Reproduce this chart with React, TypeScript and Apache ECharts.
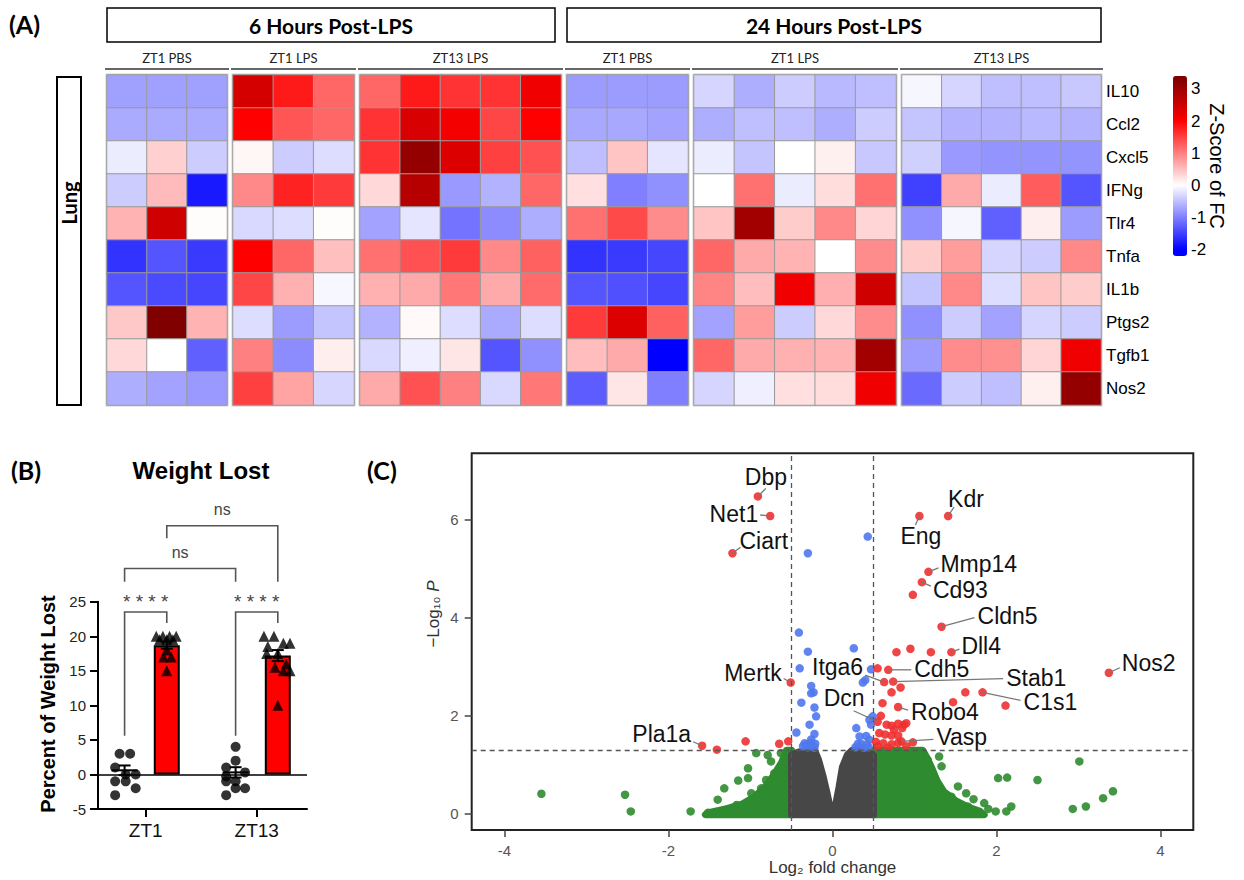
import React, { useEffect, useRef } from "react";
import * as echarts from "echarts";

// ================= Panel A : heatmap data =================
const genes = ["IL10", "Ccl2", "Cxcl5", "IFNg", "Tlr4", "Tnfa", "IL1b", "Ptgs2", "Tgfb1", "Nos2"];
const timeHeaders = ["6 Hours Post-LPS", "24 Hours Post-LPS"];
const groupLabels = ["ZT1 PBS", "ZT1 LPS", "ZT13 LPS", "ZT1 PBS", "ZT1 LPS", "ZT13 LPS"];

const h6_ZT1_PBS = [
  [-0.75, -0.75, -0.75], [-0.67, -0.67, -0.67], [-0.15, 0.37, -0.4], [-0.4, 0.53, -1.8], [0.6, 2.5, 0.02],
  [-1.6, -1.33, -1.55], [-1.33, -1.42, -1.45], [0.43, 3.3, 0.6], [0.3, 0, -1.25], [-0.63, -0.72, -0.8],
];
const h6_ZT1_LPS = [
  [2.44, 1.8, 1.2], [2.0, 1.33, 1.2], [0.07, -0.4, -0.27], [0.93, 1.73, 1.55], [-0.3, -0.27, 0.02],
  [2.0, 1.2, 0.5], [1.45, 0.62, -0.06], [-0.27, -0.78, -0.46], [1.0, -0.9, 0.13], [1.5, 0.72, -0.32],
];
const h6_ZT13_LPS = [
  [1.2, 1.8, 1.6, 1.6, 2.15], [1.6, 2.4, 2.1, 1.45, 2.0], [1.6, 3.1, 2.35, 1.5, 1.37], [0.3, 2.75, -0.8, -0.6, 1.2],
  [-0.72, -0.2, -1.1, -0.9, -0.63], [1.12, 1.37, 1.55, 0.93, 1.25], [0.62, 0.67, 1.07, 0.67, 1.17],
  [-0.6, 0.05, -0.27, -0.67, -0.27], [-0.3, -0.12, 0.2, -1.33, -0.87], [0.67, 1.37, 1.0, -0.3, 1.07],
];
const h24_ZT1_PBS = [
  [-0.78, -0.78, -0.78], [-0.68, -0.68, -0.72], [-0.5, 0.46, -0.2], [0.25, -1.0, -0.87], [1.12, 1.42, 0.9],
  [-1.6, -1.55, -1.45], [-1.33, -1.37, -1.45], [1.55, 2.35, 1.25], [0.52, 0.67, -2.0], [-1.28, 0.2, -1.0],
];
const h24_ZT1_LPS = [
  [-0.33, -0.63, -0.4, -0.55, -0.5], [-0.63, -0.5, -0.5, -0.63, -0.4], [-0.15, -0.46, 0, 0.12, -0.43],
  [0, 1.12, -0.15, 0.27, 1.12], [0.46, 2.95, 0.4, 0.93, 0.33], [1.2, 0.67, 0.6, 0, 0.9],
  [0.97, 0.52, 2.15, 0.63, 2.5], [-0.72, 0.78, -0.4, 0.3, 0.9], [1.2, 0.67, 0.62, 0.6, 2.95],
  [-0.33, -0.12, 0.25, 0.27, 2.15],
];
const h24_ZT13_LPS = [
  [-0.07, -0.33, -0.5, -0.5, -0.43], [-0.46, -0.6, -0.6, -0.55, -0.6], [-0.37, -0.8, -0.84, -0.84, -0.84],
  [-1.5, 0.67, -0.15, 1.27, -1.33], [-0.87, -0.07, -1.25, 0.13, -0.78], [0.4, 0.78, -0.33, -0.4, 0.93],
  [-0.46, 0.93, -0.27, 0.46, 0.4], [-0.87, -0.4, -0.72, -0.33, -0.4], [-0.78, 0.9, 0.87, 0.33, 2.15],
  [-1.17, -0.4, -0.5, 0.12, 3.1],
];
const heatGroups = [h6_ZT1_PBS, h6_ZT1_LPS, h6_ZT13_LPS, h24_ZT1_PBS, h24_ZT1_LPS, h24_ZT13_LPS];
const colorbarTicks = [-2, -1, 0, 1, 2, 3];
const zMin = -2.2;
const zMax = 3.4;

// ================= Panel B : weight lost =================
const timepoints = ["ZT1", "ZT13"];
const pbsZT1 = [3, 3, 1, 0, 0, -1, -1, -2, -3];
const pbsZT13 = [4, 2, 1, 0.3, -0.3, -1, -1, -2, -2, -3];
const lpsZT1 = [20, 20, 20, 20, 19.5, 19.5, 19.5, 18, 17, 17, 15];
const lpsZT13 = [20, 20, 19, 19, 18.5, 17.5, 17.5, 16, 15.5, 15, 15, 10];
const pbsMean = [0.6, 0.3];
const pbsSem = [0.7, 0.75];
const lpsMean = [18.7, 17.2];
const lpsSem = [0.5, 0.8];
const sigLabels = ["****", "****", "ns", "ns"];

// ================= Panel C : volcano =================
const greyCloud = [
  [-0.5, -0.02], [-0.5, 1.2], [-0.42, 1.26], [-0.3, 1.3], [-0.22, 1.3], [-0.17, 1.1], [-0.12, 0.8],
  [-0.07, 0.45], [-0.03, 0.14], [0.0, 0.07], [0.04, 0.2], [0.08, 0.55], [0.12, 0.95], [0.18, 1.2],
  [0.24, 1.3], [0.36, 1.3], [0.44, 1.27], [0.5, 1.2], [0.5, -0.02],
];
const greenCloudLeft = [
  [-0.5, -0.02], [-0.5, 1.3], [-0.56, 1.3], [-0.62, 1.05], [-0.72, 0.78], [-0.82, 0.55], [-0.95, 0.35],
  [-1.1, 0.2], [-1.3, 0.1], [-1.5, 0.03], [-1.55, -0.02],
];
const greenCloudRight = [
  [0.5, -0.02], [0.5, 1.3], [1.1, 1.3], [1.16, 1.12], [1.22, 0.9], [1.28, 0.66], [1.36, 0.45], [1.5, 0.27],
  [1.65, 0.14], [1.8, 0.05], [1.85, -0.02],
];
const greenPoints = [
  [-3.55, 0.41], [-2.53, 0.39], [-2.46, 0.05], [-1.73, 0.05], [-1.52, 0.02], [-1.4, 0.29], [-1.32, 0.52],
  [-1.15, 0.68], [-1.03, 0.93], [-0.93, 1.24], [-0.79, 1.2], [-0.63, 1.24], [-0.75, 1.07], [-1.03, 0.73],
  [-0.81, 0.69], [-0.71, 0.83], [-1.32, 0.08], [-1.17, 0.18], [-0.99, 0.42], [-0.87, 0.52],
  [3.01, 1.07], [2.02, 0.73], [2.13, 0.74], [2.5, 0.69], [3.42, 0.46], [3.3, 0.32], [3.09, 0.15], [2.93, 0.1],
  [2.18, 0.15], [2.12, 0.05], [1.99, 0.05], [1.85, 0.22], [1.65, 0.15], [1.53, 0.08], [1.41, 0.05],
  [1.29, 0.08], [1.16, 0.15], [1.63, 0.42], [1.53, 0.56], [1.3, 0.52], [1.33, 0.97], [1.3, 1.17],
  [1.16, 1.1], [1.35, 0.27], [1.45, 0.35], [1.72, 0.3], [1.9, 0.1],
];
const bluePoints = [
  [-0.3, 5.32], [0.43, 5.66], [-0.41, 3.7], [-0.3, 3.31], [-0.4, 2.97], [-0.26, 2.61], [-0.23, 2.48],
  [-0.26, 2.46], [-0.38, 2.27], [-0.22, 2.17], [-0.2, 1.99], [-0.28, 1.82], [-0.22, 1.63], [-0.44, 1.66],
  [-0.34, 1.44], [-0.3, 1.42], [-0.26, 1.45], [-0.21, 1.43], [-0.26, 1.52], [-0.3, 1.36], [-0.22, 1.35],
  [-0.36, 1.38], [0.26, 3.38], [0.47, 2.95], [0.4, 2.73], [0.37, 2.68], [0.29, 1.75], [0.33, 1.58],
  [0.41, 1.59], [0.31, 1.43], [0.35, 1.43], [0.42, 1.42], [0.49, 1.99], [0.47, 1.82], [0.45, 1.92],
  [0.45, 1.51], [0.28, 1.36], [0.38, 1.35], [0.44, 1.36],
];
const redPoints = [
  [0.98, 4.47], [0.78, 3.3], [0.95, 3.37], [1.2, 3.3], [0.55, 2.97], [0.83, 2.58], [0.72, 2.48],
  [1.62, 2.48], [2.11, 2.21], [1.47, 2.28], [0.61, 2.26], [0.59, 2.0], [0.66, 1.82], [0.72, 1.8], [0.8, 1.84],
  [0.87, 1.82], [0.9, 1.85], [0.85, 1.75], [0.75, 1.72], [0.57, 1.65], [0.64, 1.62], [0.72, 1.6], [0.8, 1.6],
  [0.53, 1.47], [0.62, 1.44], [0.72, 1.42], [0.8, 1.45], [0.98, 1.46], [0.55, 1.38], [0.68, 1.35], [0.9, 1.38],
  [-1.41, 1.31], [-1.06, 1.48], [-0.65, 1.43], [-0.54, 1.48],
];
const labeledGenes = [
  "Dbp", "Net1", "Ciart", "Mertk", "Pla1a", "Itga6", "Stab1", "Cdh5", "Dcn", "Robo4", "Vasp", "C1s1", "Nos2",
  "Kdr", "Eng", "Mmp14", "Cd93", "Cldn5", "Dll4",
];
const labeledFC = [-0.91, -0.76, -1.22, -0.51, -1.59, 0.63, 0.74, 0.68, 0.55, 0.8, 0.84, 1.83, 3.37, 1.41, 1.06, 1.17, 1.09, 1.33, 1.45];
const labeledP = [6.48, 6.08, 5.32, 2.68, 1.39, 2.69, 2.7, 2.94, 1.88, 2.18, 1.48, 2.48, 2.88, 6.08, 6.08, 4.94, 4.73, 3.82, 3.3];
const volcanoXTicks = [-4, -2, 0, 2, 4];
const volcanoYTicks = [0, 2, 4, 6];
const fcCut = 0.5;
const pCut = 1.30103;

// ================= layout (positions only) =================
const heatLeft = [107, 233, 360, 567, 694, 902];
const heatWidth = [120, 121, 201, 121, 202, 199];
const heatTop = 75;
const heatHeight = 330;
const groupPos = [1, 3];
const pairOff = 0.38;
const pbsJitter = [
  [-0.09, 0.1, -0.17, 0.02, 0.2, -0.17, 0.02, 0.2, -0.17],
  [0, 0, -0.17, 0.17, -0.17, 0, -0.17, 0, 0.17, -0.17],
];
const lpsJitter = [
  [-0.19, -0.07, 0.05, 0.17, -0.13, 0, 0.11, 0, -0.06, 0.08, 0],
  [-0.25, -0.07, 0.1, 0.22, -0.18, -0.2, 0, 0.15, -0.05, 0.1, 0.22, 0],
];
// bracket: [timepointA, treatA, timepointB, treatB, top, legA, legB]
const bracketGeom = [
  [0, 0, 0, 1, 23.5, 5.6, 21.9],
  [1, 0, 1, 1, 23.5, 5.6, 21.9],
  [0, 0, 1, 0, 29.8, 27.9, 27.9],
  [0, 1, 1, 1, 36.0, 34.2, 27.9],
];
// [textDx, textDy, lineDx, lineDy, align]
const labelLayout: any[] = [
  [8, -19, 8, -8, "center"], [-12, -2, -10, -1, "right"], [7, -12, 8, -6, "left"], [-9, -10, -7, -4, "right"],
  [-11, -12, -9, -4, "right"], [-21, -15, -19, -7, "right"], [113, -4, 110, -3, "left"], [26, -1, 23, 0, "left"],
  [-13, -24, -24, -11, "right"], [13, 5, 10, 3, "left"], [35, -4, 32, -2, "left"], [41, 10, 38, 8, "left"],
  [13, -10, 11, -5, "left"], [0, -17, 6, -9, "left"], [-19, 20, -4, 9, "left"], [12, -8, 10, -4, "left"],
  [11, 8, 9, 4, "left"], [36, -11, 33, -9, "left"], [10, -6, 8, -3, "left"],
];

function heatColor(v: number): string {
  let r: number, g: number, b: number;
  if (v < 0) {
    const t = Math.min(1, -v / 2);
    r = g = Math.round(255 * (1 - t));
    b = 255;
  } else if (v <= 2) {
    const t = v / 2;
    r = 255;
    g = b = Math.round(255 * (1 - t));
  } else {
    const t = Math.min(1, (v - 2) / 1.3);
    r = Math.round(255 - 127 * t);
    g = b = 0;
  }
  return `rgb(${r},${g},${b})`;
}

const FONT = "Liberation Sans, Arial, sans-serif";
const CAL = "Lato, Liberation Sans, sans-serif";

function buildOption() {
  const grid: any[] = [];
  const xAxis: any[] = [];
  const yAxis: any[] = [];
  const series: any[] = [];

  // ---- heatmaps (grid 0-5)
  heatGroups.forEach((g, gi) => {
    grid.push({
      left: heatLeft[gi], top: heatTop, width: heatWidth[gi], height: heatHeight,
      show: true, borderColor: "#cfcfcf", borderWidth: 3, outerBoundsMode: "none",
    });
    xAxis.push({ type: "category", gridIndex: gi, data: g[0].map((_, i) => String(i + 1)), show: false });
    yAxis.push({
      type: "category", gridIndex: gi, data: genes, inverse: true,
      position: gi === 5 ? "right" : "left",
      axisLine: { show: false }, axisTick: { show: false },
      axisLabel: { show: gi === 5, fontSize: 17, color: "#000", margin: 5, fontFamily: FONT },
    });
    const data: any[] = [];
    g.forEach((row, ri) => row.forEach((v, ci) => data.push([ci, ri, v])));
    series.push({
      type: "heatmap", xAxisIndex: gi, yAxisIndex: gi, data,
      itemStyle: { borderColor: "#9a9a9a", borderWidth: 1 },
      emphasis: { disabled: true },
    });
  });

  // ---- colorbar tick axis (grid 6)
  grid.push({ left: 1173, top: 76, width: 14, height: 180, outerBoundsMode: "none" });
  xAxis.push({ type: "value", gridIndex: 6, show: false, min: 0, max: 1 });
  yAxis.push({
    type: "value", gridIndex: 6, min: zMin, max: zMax, position: "right",
    axisLine: { show: false }, axisTick: { show: false }, splitLine: { show: false },
    axisLabel: { customValues: colorbarTicks, fontSize: 17, color: "#000", margin: 4, fontFamily: FONT },
  });
  series.push({ type: "scatter", xAxisIndex: 6, yAxisIndex: 6, data: [] });

  // ---- weight lost (grid 7)
  grid.push({ left: 98, top: 601.7, width: 209, height: 207.3, outerBoundsMode: "none" });
  xAxis.push({
    type: "value", gridIndex: 7, min: 0.141, max: 3.906,
    axisLine: { show: true, onZero: false, lineStyle: { color: "#000", width: 2 } },
    axisTick: { show: true, customValues: groupPos, length: 8, lineStyle: { color: "#000", width: 2 } },
    axisLabel: {
      customValues: groupPos, fontSize: 19, color: "#111", margin: 12, fontFamily: FONT,
      formatter: (v: number) => timepoints[groupPos.indexOf(v)] ?? "",
    },
    splitLine: { show: false },
  });
  yAxis.push({
    type: "value", gridIndex: 7, min: -5, max: 25, interval: 5,
    axisLine: { show: true, lineStyle: { color: "#000", width: 2 } },
    axisTick: { show: true, length: 8, lineStyle: { color: "#000", width: 2 } },
    axisLabel: { fontSize: 15, color: "#222", margin: 12, fontFamily: FONT },
    splitLine: { show: false },
  });
  series.push({
    type: "bar", xAxisIndex: 7, yAxisIndex: 7, barWidth: 26,
    data: groupPos.map((p, i) => [p + pairOff, lpsMean[i]]),
    itemStyle: { color: "#ff0000", borderColor: "#000", borderWidth: 2 },
    emphasis: { disabled: true },
    markLine: {
      silent: true, symbol: "none", label: { show: false },
      lineStyle: { color: "#000", width: 1.5, type: "solid" },
      data: [{ yAxis: 0 }],
    },
  });
  const pbsData: any[] = [];
  [pbsZT1, pbsZT13].forEach((arr, t) =>
    arr.forEach((v, i) => pbsData.push([groupPos[t] - pairOff + pbsJitter[t][i], v]))
  );
  const lpsData: any[] = [];
  [lpsZT1, lpsZT13].forEach((arr, t) =>
    arr.forEach((v, i) => lpsData.push([groupPos[t] + pairOff + lpsJitter[t][i], v]))
  );
  series.push({
    type: "scatter", xAxisIndex: 7, yAxisIndex: 7, data: pbsData, symbol: "circle", symbolSize: 10,
    itemStyle: { color: "#000" }, emphasis: { disabled: true },
  });
  series.push({
    type: "scatter", xAxisIndex: 7, yAxisIndex: 7, data: lpsData, symbol: "triangle", symbolSize: 11,
    itemStyle: { color: "#000" }, emphasis: { disabled: true },
  });
  const errData = [
    [groupPos[0] - pairOff, pbsMean[0], pbsSem[0], 1],
    [groupPos[1] - pairOff, pbsMean[1], pbsSem[1], 1],
    [groupPos[0] + pairOff, lpsMean[0], lpsSem[0], 0],
    [groupPos[1] + pairOff, lpsMean[1], lpsSem[1], 0],
  ];
  series.push({
    type: "custom", xAxisIndex: 7, yAxisIndex: 7, data: errData, silent: true, z: 5,
    renderItem: (params: any, api: any) => {
      const x = api.value(0), m = api.value(1), s = api.value(2), wide = api.value(3);
      const c = api.coord([x, m]);
      const hi = api.coord([x, m + s]);
      const lo = api.coord([x, m - s]);
      const ls = { stroke: "#000", lineWidth: 2 };
      const cap = 6;
      const children: any[] = [
        { type: "line", shape: { x1: c[0], y1: hi[1], x2: c[0], y2: lo[1] }, style: ls },
        { type: "line", shape: { x1: c[0] - cap, y1: hi[1], x2: c[0] + cap, y2: hi[1] }, style: ls },
        { type: "line", shape: { x1: c[0] - cap, y1: lo[1], x2: c[0] + cap, y2: lo[1] }, style: ls },
      ];
      if (wide) children.push({ type: "line", shape: { x1: c[0] - 13, y1: c[1], x2: c[0] + 13, y2: c[1] }, style: ls });
      return { type: "group", children };
    },
  });
  const brData = bracketGeom.map((b, i) => [
    groupPos[b[0]] + (b[1] ? pairOff : -pairOff),
    groupPos[b[2]] + (b[3] ? pairOff : -pairOff),
    b[4], b[5], b[6], i,
  ]);
  series.push({
    type: "custom", xAxisIndex: 7, yAxisIndex: 7, data: brData, silent: true, clip: false,
    renderItem: (params: any, api: any) => {
      const xa = api.value(0), xb = api.value(1), top = api.value(2), la = api.value(3), lb = api.value(4);
      const i = params.dataIndex;
      const pTopA = api.coord([xa, top]);
      const pTopB = api.coord([xb, top]);
      const pA = api.coord([xa, la]);
      const pB = api.coord([xb, lb]);
      const ls = { stroke: "#555", lineWidth: 1.6, fill: "none" };
      const isStar = sigLabels[i] === "****";
      return {
        type: "group",
        children: [
          { type: "polyline", shape: { points: [pA, pTopA, pTopB, pB] }, style: ls },
          {
            type: "text", x: (pTopA[0] + pTopB[0]) / 2, y: pTopA[1] - (isStar ? 11 : 16),
            style: {
              text: isStar ? "* * * *" : sigLabels[i], fontSize: isStar ? 19 : 16, fill: "#444",
              align: "center", verticalAlign: "middle", fontFamily: FONT,
            },
          },
        ],
      };
    },
  });

  // ---- volcano (grid 8)
  grid.push({
    left: 471.7, top: 453.3, width: 721.6, height: 376.7, show: true,
    borderColor: "#222", borderWidth: 2, outerBoundsMode: "none",
  });
  xAxis.push({
    type: "value", gridIndex: 8, min: -4.4, max: 4.4,
    axisLine: { show: false, onZero: false },
    axisTick: { show: true, customValues: volcanoXTicks, length: 7, lineStyle: { color: "#444", width: 1.5 } },
    axisLabel: { customValues: volcanoXTicks, fontSize: 15, color: "#555", margin: 13, fontFamily: FONT },
    splitLine: { show: false },
    name: "Log\u2082 fold change", nameLocation: "middle", nameGap: 27,
    nameTextStyle: { fontSize: 17, color: "#333", fontFamily: FONT },
  });
  yAxis.push({
    type: "value", gridIndex: 8, min: -0.33, max: 7.36,
    axisLine: { show: false, onZero: false },
    axisTick: { show: true, customValues: volcanoYTicks, length: 7, lineStyle: { color: "#444", width: 1.5 } },
    axisLabel: { customValues: volcanoYTicks, fontSize: 15, color: "#555", margin: 13, fontFamily: FONT },
    splitLine: { show: false },
  });
  const poly = (pts: number[][], color: string) => ({
    type: "custom", xAxisIndex: 8, yAxisIndex: 8, silent: true, data: [[0, 0]],
    renderItem: (params: any, api: any) => ({
      type: "polygon",
      shape: { points: pts.map((p) => api.coord(p)) },
      style: { fill: color, stroke: color, lineWidth: 7, lineJoin: "round" },
    }),
  });
  series.push(poly(greenCloudLeft, "#2f8b2f"));
  series.push(poly(greenCloudRight, "#2f8b2f"));
  series.push(poly(greyCloud, "#474747"));
  const scatterStyle = (data: any[], color: string, extra: any = {}) => ({
    type: "scatter", xAxisIndex: 8, yAxisIndex: 8, data, symbolSize: 8.5,
    itemStyle: { color, opacity: 0.9 }, emphasis: { disabled: true }, ...extra,
  });
  series.push(scatterStyle(greenPoints, "#2f8b2f"));
  series.push(scatterStyle(bluePoints, "#5078ee"));
  const redAll = redPoints.concat(labeledFC.map((x, i) => [x, labeledP[i]]));
  series.push(
    scatterStyle(redAll, "#f03030", {
      markLine: {
        silent: true, symbol: "none", label: { show: false },
        lineStyle: { color: "#555", width: 1.3, type: [5, 4] },
        data: [{ xAxis: -fcCut }, { xAxis: fcCut }, { yAxis: pCut }],
      },
    })
  );
  series.push({
    type: "custom", xAxisIndex: 8, yAxisIndex: 8, silent: true, clip: false, z: 6,
    data: labeledFC.map((x, i) => [x, labeledP[i]]),
    renderItem: (params: any, api: any) => {
      const i = params.dataIndex;
      const p = api.coord([api.value(0), api.value(1)]);
      const o = labelLayout[i];
      return {
        type: "group",
        children: [
          { type: "line", shape: { x1: p[0], y1: p[1], x2: p[0] + o[2], y2: p[1] + o[3] }, style: { stroke: "#777", lineWidth: 1.3 } },
          {
            type: "text", x: p[0] + o[0], y: p[1] + o[1],
            style: { text: labeledGenes[i], fontSize: 23, fill: "#111", align: o[4], verticalAlign: "middle", fontFamily: FONT },
          },
        ],
      };
    },
  });

  // ---- visual map for heatmap colours
  const nStops = 57;
  const stops: string[] = [];
  for (let i = 0; i < nStops; i++) stops.push(heatColor(zMin + ((zMax - zMin) * i) / (nStops - 1)));

  const graphic: any[] = [];
  const txt = (x: number, y: number, text: string, style: any = {}, extra: any = {}) => ({
    type: "text", x, y, silent: true, ...extra,
    style: { text, fill: "#000", align: "center", verticalAlign: "middle", fontFamily: FONT, ...style },
  });
  graphic.push(txt(9, 24, "(A)", { fontSize: 25, fontWeight: "bold", align: "left", fontFamily: CAL }));
  graphic.push(txt(11, 470, "(B)", { fontSize: 25, fontWeight: "bold", align: "left", fontFamily: CAL }));
  graphic.push(txt(367, 470, "(C)", { fontSize: 25, fontWeight: "bold", align: "left", fontFamily: CAL }));
  const boxes = [[107, 448], [567, 534]];
  boxes.forEach((b, i) => {
    graphic.push({ type: "rect", shape: { x: b[0], y: 8, width: b[1], height: 34 }, style: { fill: "none", stroke: "#000", lineWidth: 1.5 }, silent: true });
    graphic.push(txt(b[0] + b[1] / 2, 25, timeHeaders[i], { fontSize: 21, fontWeight: "bold", fontFamily: CAL }));
  });
  groupLabels.forEach((g, i) => {
    const cx = heatLeft[i] + heatWidth[i] / 2;
    graphic.push(txt(cx, 58, g, { fontSize: 13, fill: "#222", fontFamily: CAL }));
    graphic.push({ type: "line", shape: { x1: heatLeft[i] - 2, y1: 69, x2: heatLeft[i] + heatWidth[i] + 2, y2: 69 }, style: { stroke: "#666", lineWidth: 2 }, silent: true });
  });
  graphic.push({ type: "rect", shape: { x: 57, y: 77, width: 24, height: 328 }, style: { fill: "none", stroke: "#000", lineWidth: 2 }, silent: true });
  graphic.push(txt(69, 203, "Lung", { fontSize: 20, fontWeight: "bold", fontFamily: CAL }, { rotation: Math.PI / 2 }));
  graphic.push(txt(1217, 166, "Z-Score of FC", { fontSize: 20 }, { rotation: -Math.PI / 2 }));
  graphic.push(txt(201, 470, "Weight Lost", { fontSize: 24, fontWeight: "bold" }));
  graphic.push(txt(48, 704, "Percent of Weight Lost", { fontSize: 20, fontWeight: "bold" }, { rotation: Math.PI / 2 }));
  graphic.push({
    type: "text", x: 433, y: 614, rotation: Math.PI / 2, silent: true,
    style: {
      text: "{a|\u2212Log\u2081\u2080 }{b|P}", align: "center", verticalAlign: "middle",
      rich: {
        a: { fontSize: 17, fill: "#333", fontFamily: FONT },
        b: { fontSize: 17, fill: "#333", fontStyle: "italic", fontFamily: FONT },
      },
    },
  });

  return {
    animation: false,
    backgroundColor: "#fff",
    textStyle: { fontFamily: FONT },
    grid, xAxis, yAxis, series,
    visualMap: {
      type: "continuous", min: zMin, max: zMax, seriesIndex: [0, 1, 2, 3, 4, 5],
      inRange: { color: stops }, left: 1173, top: 76, itemWidth: 14, itemHeight: 180,
      orient: "vertical", calculable: false, padding: 0, text: null, hoverLink: false,
    },
    graphic,
  };
}

export default function App() {
  const ref = useRef<HTMLDivElement>(null);
  useEffect(() => {
    const chart = echarts.init(ref.current!, null, { renderer: "svg" });
    chart.setOption(buildOption() as any);
    return () => chart.dispose();
  }, []);
  return (
    <div
      ref={ref}
      style={{ position: "fixed", left: 0, top: 0, width: 1244, height: 880, background: "#fff" }}
    />
  );
}
